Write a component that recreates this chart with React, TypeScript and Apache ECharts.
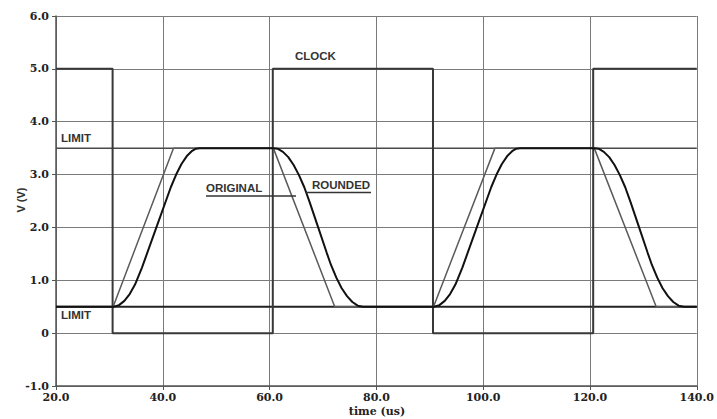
import React, { useEffect, useRef } from "react";
import * as echarts from "echarts";

// Data
const X_MIN = 20;
const X_MAX = 140;
const Y_MIN = -1;
const Y_MAX = 6;
const LIMIT_VALUES = [3.5, 0.5];

const clockData: [number, number][] = [
  [20, 5], [30.6, 5], [30.6, 0], [60.6, 0], [60.6, 5], [90.6, 5],
  [90.6, 0], [120.6, 0], [120.6, 5], [140, 5],
];

const originalData: [number, number][] = [
  [20, 0.5], [30.7, 0.5], [42.0, 3.5], [60.7, 3.5], [72.2, 0.5],
  [90.7, 0.5], [102.2, 3.5], [120.8, 3.5], [132.4, 0.5], [140, 0.5],
];

const roundedData: [number, number][] = [
  [20, 0.5], [30.8, 0.5], [31.8, 0.53], [32.8, 0.61], [33.8, 0.74], [34.8, 0.92],
  [36.1, 1.24], [38.8, 2.0], [41.5, 2.76], [42.5, 3.0], [43.5, 3.2], [44.5, 3.35],
  [45.5, 3.45], [46.2, 3.49], [46.9, 3.5],
  [60.7, 3.5], [61.5, 3.49], [62.5, 3.43], [63.5, 3.33], [64.5, 3.18], [65.5, 2.99],
  [66.5, 2.76], [67.5, 2.48], [69.1, 2.0], [70.7, 1.52], [71.5, 1.29], [72.5, 1.05],
  [73.5, 0.85], [74.5, 0.7], [75.5, 0.59], [76.5, 0.52], [77.5, 0.5],
  [90.8, 0.5], [91.8, 0.53], [92.8, 0.61], [93.8, 0.74], [94.8, 0.92],
  [96.1, 1.24], [98.8, 2.0], [101.5, 2.76], [102.5, 3.0], [103.5, 3.2], [104.5, 3.35],
  [105.5, 3.45], [106.2, 3.49], [106.9, 3.5],
  [120.8, 3.5], [121.6, 3.49], [122.6, 3.43], [123.6, 3.33], [124.6, 3.18], [125.6, 2.99],
  [126.6, 2.76], [127.6, 2.48], [129.2, 2.0], [130.8, 1.52], [131.6, 1.29], [132.6, 1.05],
  [133.6, 0.85], [134.6, 0.7], [135.6, 0.59], [136.6, 0.52], [137.6, 0.5], [140, 0.5],
];

const TEXT_FONT = "'Liberation Sans', Arial, sans-serif";
const AXIS_FONT = "'DejaVu Serif', serif";

export default function App() {
  const ref = useRef<HTMLDivElement>(null);

  useEffect(() => {
    if (!ref.current) return;
    const chart = echarts.init(ref.current, undefined, { renderer: "svg" });

    const limitSeries = LIMIT_VALUES.map((v, i) => ({
      type: "line",
      name: "LIMIT" + i,
      data: [[X_MIN, v], [X_MAX, v]],
      symbol: "none",
      lineStyle: { color: i === 0 ? "#4a4a4a" : "#222", width: i === 0 ? 1.5 : 2 },
      z: 2,
    }));

    const label = (t: string, x: number, y: number) => ({
      type: "text",
      x,
      y,
      style: {
        text: t,
        fill: "#333",
        font: `bold 11.5px ${TEXT_FONT}`,
        verticalAlign: "middle",
        align: "left",
      },
      z: 10,
    });

    chart.setOption({
      animation: false,
      backgroundColor: "#fff",
      grid: { left: 56, right: 16, top: 16, bottom: 33, containLabel: false },
      xAxis: {
        type: "value",
        min: X_MIN,
        max: X_MAX,
        interval: 20,
        axisLine: { show: true, onZero: false, lineStyle: { color: "#555", width: 1.5 } },
        axisTick: { show: true, inside: false, length: 4, lineStyle: { color: "#555" } },
        axisLabel: {
          color: "#222",
          fontFamily: AXIS_FONT,
          fontWeight: "bold",
          fontSize: 11,
          margin: 6,
          formatter: (v: number) => v.toFixed(1),
        },
        splitLine: { show: true, lineStyle: { color: "#7a7a7a", width: 1 } },
      },
      yAxis: {
        type: "value",
        min: Y_MIN,
        max: Y_MAX,
        interval: 1,
        axisLine: { show: true, onZero: false, lineStyle: { color: "#555", width: 1.5 } },
        axisTick: { show: true, inside: false, length: 4, lineStyle: { color: "#555" } },
        axisLabel: {
          color: "#222",
          fontFamily: AXIS_FONT,
          fontWeight: "bold",
          fontSize: 11,
          margin: 7,
          formatter: (v: number) => (v === 0 ? "0" : v.toFixed(1)),
        },
        splitLine: { show: true, lineStyle: { color: "#7a7a7a", width: 1 } },
      },
      series: [
        ...limitSeries,
        {
          type: "line",
          name: "CLOCK",
          data: clockData,
          symbol: "none",
          lineStyle: { color: "#383838", width: 2 },
          z: 3,
        },
        {
          type: "line",
          name: "ORIGINAL",
          data: originalData,
          symbol: "none",
          lineStyle: { color: "#5a5a5a", width: 1.5 },
          z: 4,
        },
        {
          type: "line",
          name: "ROUNDED",
          data: roundedData,
          symbol: "none",
          lineStyle: { color: "#111", width: 2 },
          z: 5,
        },
      ],
      graphic: [
        label("CLOCK", 295, 56),
        label("LIMIT", 61, 138),
        label("LIMIT", 61, 315),
        label("ORIGINAL", 206, 188),
        label("ROUNDED", 312, 185),
        {
          type: "line",
          shape: { x1: 206, y1: 196, x2: 296, y2: 196 },
          style: { stroke: "#333", lineWidth: 1.5 },
          z: 10,
        },
        {
          type: "line",
          shape: { x1: 306, y1: 192.5, x2: 371, y2: 192.5 },
          style: { stroke: "#333", lineWidth: 1.5 },
          z: 10,
        },
        {
          type: "text",
          x: 21,
          y: 200,
          rotation: Math.PI / 2,
          style: {
            text: "V (V)",
            fill: "#333",
            font: `bold 11px ${TEXT_FONT}`,
            align: "center",
            verticalAlign: "middle",
          },
        },
        {
          type: "text",
          x: 377,
          y: 411,
          style: {
            text: "time (us)",
            fill: "#222",
            font: `bold 11px ${AXIS_FONT}`,
            align: "center",
            verticalAlign: "middle",
          },
        },
      ],
    });

    return () => chart.dispose();
  }, []);

  return <div ref={ref} style={{ width: 717, height: 419, position: "absolute", left: 0, top: 0 }} />;
}
